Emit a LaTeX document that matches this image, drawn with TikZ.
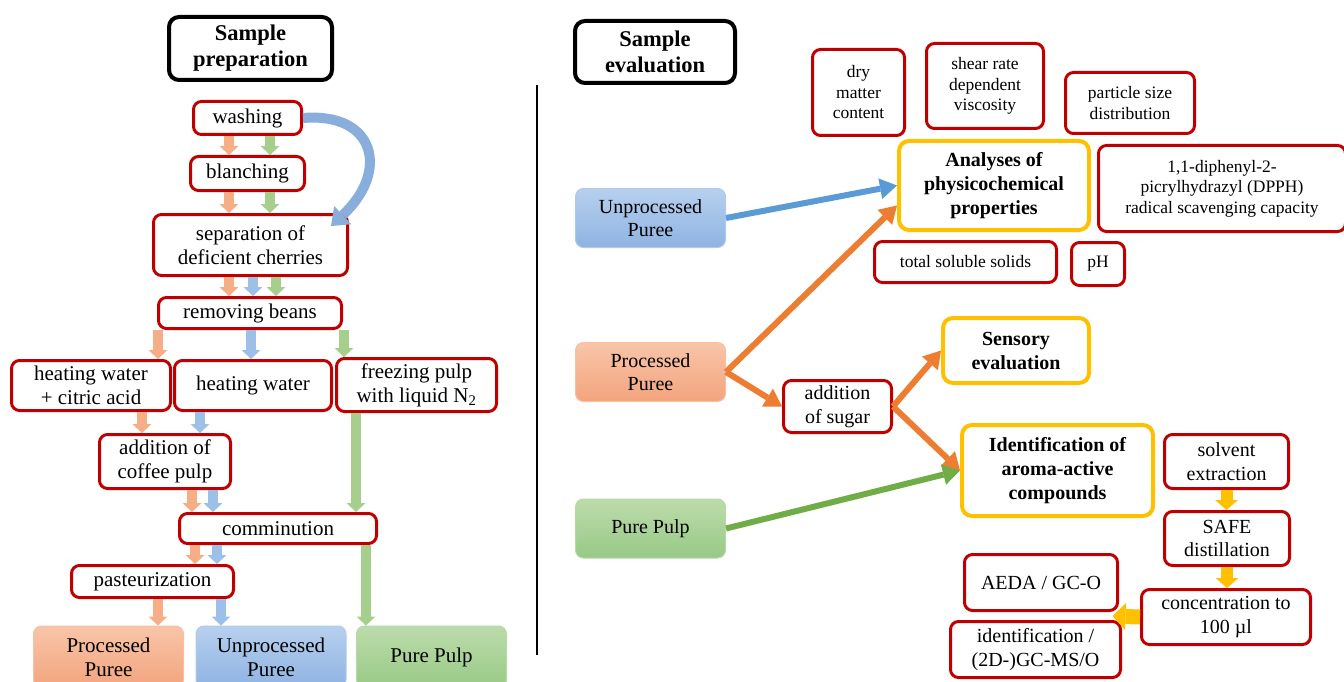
\documentclass[tikz,border=0pt]{standalone}
\usepackage{fontspec}
\setmainfont{Liberation Serif}
\usetikzlibrary{arrows.meta,calc}

\definecolor{boxred}{HTML}{C00000}
\definecolor{boxgold}{HTML}{FFC000}
\definecolor{lnorange}{HTML}{ED7D31}
\definecolor{lnblue}{HTML}{5B9BD5}
\definecolor{lngreen}{HTML}{70AD47}
\definecolor{smorange}{HTML}{F5AE86}
\definecolor{smblue}{HTML}{9CC0E8}
\definecolor{smgreen}{HTML}{A6CF8E}
\definecolor{ortop}{HTML}{F8C5A8}
\definecolor{orbot}{HTML}{F3A47E}
\definecolor{bltop}{HTML}{B7D0EE}
\definecolor{blbot}{HTML}{8EB3E2}
\definecolor{grtop}{HTML}{BCDCAB}
\definecolor{grbot}{HTML}{98C986}
\definecolor{curvblue}{HTML}{8AAEDC}

\begin{document}
\begin{tikzpicture}[x=1pt, y=-1pt,
  titlebox/.style={draw=black, line width=4pt, rounded corners=10pt, align=center, inner sep=0pt,
    font=\fontsize{22.5}{26}\selectfont\bfseries},
  stepbox/.style={draw=boxred, line width=3pt, rounded corners=8pt, fill=white, align=center, inner sep=0pt,
    font=\fontsize{21}{24}\selectfont},
  testbox/.style={stepbox, font=\fontsize{17.5}{20.5}\selectfont},
  evalbox/.style={stepbox, font=\fontsize{20}{23.5}\selectfont},
  mainbox/.style={draw=boxgold, line width=4pt, rounded corners=10pt, fill=white, align=center, inner sep=0pt,
    font=\fontsize{20}{24}\selectfont\bfseries},
  pureebox/.style={line width=1pt, rounded corners=8pt, align=center, inner sep=0pt,
    minimum width=150pt, minimum height=59pt, font=\fontsize{20}{23.5}\selectfont},
  procbox/.style={pureebox, top color=ortop, bottom color=orbot, draw=orbot!70!white},
  unprbox/.style={pureebox, top color=bltop, bottom color=blbot, draw=blbot!70!white},
  pulpbox/.style={pureebox, top color=grtop, bottom color=grbot, draw=grbot!70!white},
  smarrow/.style={line width=9.5pt, -{Triangle[length=9pt,width=19pt,line width=0pt]}},
  oarr/.style={smarrow, smorange},
  barr/.style={smarrow, smblue},
  garr/.style={smarrow, smgreen},
  lnarrow/.style={line width=6pt, -{Triangle[length=17pt,width=21pt,line width=0pt]}},
  yarr/.style={boxgold, line width=12pt, -{Triangle[length=10pt,width=23pt,line width=0pt]}}
]
\useasboundingbox (0,0) rectangle (1344,682);
\clip (0,0) rectangle (1344,682);

% sample preparation
\node (ttlprep) at (250.5,48.5) [titlebox, minimum width=163pt, minimum height=63pt] {Sample\\preparation};

\node (wash) at (247.5,118) [stepbox, minimum width=108pt, minimum height=33pt] {washing};
\node (blan) at (247.5,173.5) [stepbox, minimum width=114pt, minimum height=34pt] {blanching};
\node (sep) at (250.5,245) [stepbox, minimum width=194pt, minimum height=61pt] {separation of\\deficient cherries};
\node (rem) at (250,313) [stepbox, minimum width=183pt, minimum height=31pt] {removing beans};

\node (heatc) at (91,385.5) [stepbox, minimum width=159pt, minimum height=50pt] {heating water\\+ citric acid};
\node (heatw) at (253,385.5) [stepbox, minimum width=157pt, minimum height=50pt] {heating water};
\node (frz) at (416.5,385) [stepbox, minimum width=160pt, minimum height=53pt] {freezing pulp\\with liquid N\textsubscript{2}};

\node (addp) at (165,461.5) [stepbox, minimum width=131pt, minimum height=54pt] {addition of\\coffee pulp};
\node (comm) at (278,528.5) [stepbox, minimum width=197pt, minimum height=30pt] {comminution};
\node (past) at (152.5,581.5) [stepbox, minimum width=162pt, minimum height=32pt] {pasteurization};

\node (lproc) at (108.5,657) [procbox, minimum height=62pt, font=\fontsize{21}{24}\selectfont] {Processed\\Puree};
\node (lunpr) at (271,657) [unprbox, minimum height=62pt, font=\fontsize{21}{24}\selectfont] {Unprocessed\\Puree};
\node (lpulp) at (431.5,657) [pulpbox, minimum height=62pt, font=\fontsize{21}{24}\selectfont] {Pure Pulp};

\draw[oarr] ([xshift=-18.5pt]wash.south) -- ([xshift=-18.5pt]wash.south |- blan.north);
\draw[garr] ([xshift=22.5pt]wash.south) -- ([xshift=22.5pt]wash.south |- blan.north);
\draw[oarr] ([xshift=-18.5pt]blan.south) -- ([xshift=-18.5pt]blan.south |- sep.north);
\draw[garr] ([xshift=22.5pt]blan.south) -- ([xshift=22.5pt]blan.south |- sep.north);
\draw[oarr] ([xshift=-21.5pt]sep.south) -- ([xshift=-21.5pt]sep.south |- rem.north);
\draw[barr] ([xshift=2.5pt]sep.south) -- ([xshift=2.5pt]sep.south |- rem.north);
\draw[garr] ([xshift=25.5pt]sep.south) -- ([xshift=25.5pt]sep.south |- rem.north);

\draw[oarr] ([xshift=-92pt]rem.south) -- ([xshift=-92pt]rem.south |- heatc.north);
\draw[barr] ([xshift=1pt]rem.south) -- ([xshift=1pt]rem.south |- heatw.north);
\draw[garr] ([xshift=94pt]rem.south) -- ([xshift=94pt]rem.south |- frz.north);

\draw[oarr] ([xshift=51pt]heatc.south) -- ([xshift=51pt]heatc.south |- addp.north);
\draw[barr] ([xshift=-53pt]heatw.south) -- ([xshift=-53pt]heatw.south |- addp.north);
\draw[oarr] ([xshift=27pt]addp.south) -- ([xshift=27pt]addp.south |- comm.north);
\draw[barr] ([xshift=48pt]addp.south) -- ([xshift=48pt]addp.south |- comm.north);
\draw[garr] ([xshift=-60.5pt]frz.south) -- ([xshift=-60.5pt]frz.south |- comm.north);

\draw[oarr] ([xshift=-83pt]comm.south) -- ([xshift=-83pt]comm.south |- past.north);
\draw[barr] ([xshift=-61pt]comm.south) -- ([xshift=-61pt]comm.south |- past.north);
\draw[garr] ([xshift=88pt]comm.south) -- ([xshift=88pt]comm.south |- lpulp.north);
\draw[oarr] ([xshift=5.5pt]past.south) -- ([xshift=5.5pt]past.south |- lproc.north);
\draw[barr] ([xshift=68.5pt]past.south) -- ([xshift=68.5pt]past.south |- lunpr.north);

% shortcut for the unprocessed puree
\draw[curvblue, line width=10pt, -{Triangle[length=16pt,width=25pt,line width=0pt]}]
  (wash.east) .. controls +(72,-6) and +(59,-55) .. ([xshift=-18pt,yshift=-13pt]sep.north east);

\draw[line width=2pt] (537,85) -- (537,655);

% sample evaluation
\node (ttleval) at (655,52) [titlebox, minimum width=160pt, minimum height=62pt] {Sample\\evaluation};

\node (runpr) at (650.5,218) [unprbox] {Unprocessed\\Puree};
\node (rproc) at (650.5,372) [procbox] {Processed\\Puree};
\node (rpulp) at (650.5,528.5) [pulpbox] {Pure Pulp};

\node (anal) at (994,185.5) [mainbox, minimum width=190pt, minimum height=89pt] {Analyses of\\physicochemical\\properties};
\node (dry) at (858.5,92.5) [testbox, minimum width=92pt, minimum height=86pt] {dry\\matter\\content};
\node (shear) at (985,86) [testbox, minimum width=117pt, minimum height=85pt] {shear rate\\dependent\\viscosity};
\node (psd) at (1130,103) [testbox, minimum width=129pt, minimum height=61pt] {particle size\\distribution};
\node (dpph) at (1222,188.5) [testbox, minimum width=247pt, minimum height=86pt] {1,1-diphenyl-2-\\picrylhydrazyl (DPPH)\\radical scavenging capacity};
\node (tss) at (965.5,262) [testbox, minimum width=182pt, minimum height=41pt] {total soluble solids};
\node (ph) at (1098,264) [testbox, minimum width=53pt, minimum height=43pt] {pH};

\node (sugar) at (837.5,406.5) [evalbox, minimum width=108pt, minimum height=52pt] {addition\\of sugar};
\node (sens) at (1016,350.5) [mainbox, minimum width=146pt, minimum height=65pt] {Sensory\\evaluation};
\node (aroma) at (1057.5,470.5) [mainbox, minimum width=191pt, minimum height=91pt] {Identification of\\aroma-active\\compounds};

\node (solv) at (1226.5,461.5) [evalbox, minimum width=124pt, minimum height=54pt] {solvent\\extraction};
\node (safe) at (1227,538.5) [evalbox, minimum width=125pt, minimum height=54pt] {SAFE\\distillation};
\node (conc) at (1226,617) [evalbox, minimum width=169pt, minimum height=55pt] {concentration to\\100 µl};
\node (aeda) at (1041,582.5) [evalbox, minimum width=153pt, minimum height=56pt] {AEDA / GC-O};
\node (ident) at (1035.5,649.5) [evalbox, minimum width=170pt, minimum height=56pt] {identification /\\(2D-)GC-MS/O};

\draw[lnarrow, lnblue] (runpr.east) -- (anal.west);
\draw[lnarrow, lnorange] (rproc.east) -- ([yshift=-20pt]anal.west);
\draw[lnarrow, lnorange] (rproc.east) -- (sugar.west);
\draw[lnarrow, lnorange] (sugar.east) -- (sens.west);
\draw[lnarrow, lnorange] (sugar.east) -- (aroma.west);
\draw[lnarrow, lngreen] (rpulp.east) -- (aroma.west);

\draw[yarr] (solv.south) -- (solv.south |- safe.north);
\draw[yarr] (safe.south) -- (safe.south |- conc.north);
\draw[yarr, line width=15pt, -{Triangle[length=13pt,width=27pt,line width=0pt]}]
  (conc.west) -- ([xshift=-8pt]$(aeda.south east)!0.5!(ident.north east)$);
\end{tikzpicture}
\end{document}
